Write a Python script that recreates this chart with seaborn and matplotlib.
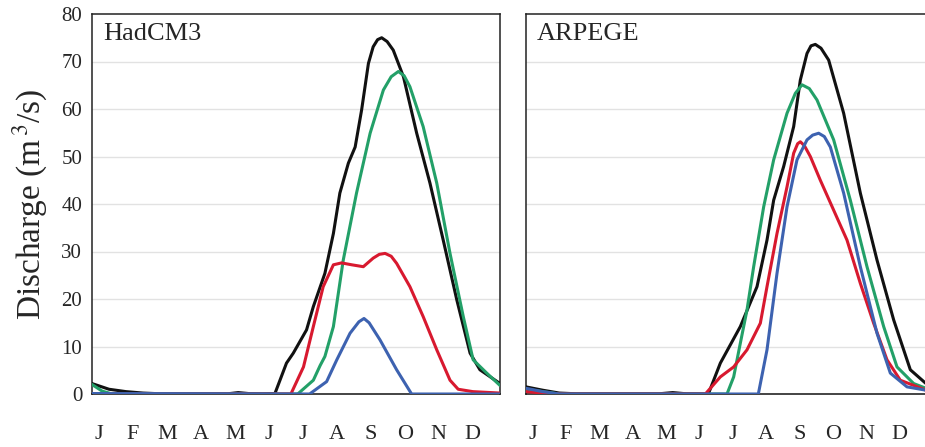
import numpy as np
import pandas as pd
import matplotlib
matplotlib.use("Agg")
import matplotlib.pyplot as plt
import seaborn as sns

# month labels and panel names
months = ["J", "F", "M", "A", "M", "J", "J", "A", "S", "O", "N", "D"]
panels = ["HadCM3", "ARPEGE"]

# HadCM3 series (x in months since 1 Jan, y in m3/s)
had_black_m = [0, 0.5, 1.0, 1.5, 2.0, 4.0, 4.3, 4.6, 5.0, 5.38, 5.72, 5.92, 6.31, 6.51, 6.85, 7.1, 7.29, 7.54,
               7.74, 7.93, 8.13, 8.27, 8.4, 8.52, 8.68, 8.86, 9.16, 9.55, 9.94, 10.33, 10.73, 11.12, 11.41, 12.0]
had_black_v = [2.2, 1.0, 0.5, 0.2, 0.05, 0.05, 0.3, 0.1, 0.05, 0.1, 6.5, 8.6, 13.5, 18.4, 25.4, 33.8, 42.3, 48.6,
               52.0, 59.8, 69.6, 73.1, 74.6, 75.0, 74.2, 72.4, 66.8, 54.9, 44.4, 32.4, 19.8, 8.6, 5.1, 2.2]
had_green_m = [0, 0.3, 0.6, 6.05, 6.51, 6.71, 6.85, 7.1, 7.39, 7.78, 8.18, 8.57, 8.8, 9.01, 9.18, 9.35, 9.74,
               10.14, 10.53, 10.92, 11.21, 11.61, 12.0]
had_green_v = [2.0, 0.6, 0, 0, 2.9, 6.0, 7.9, 14.2, 28.2, 42.3, 54.9, 64.0, 66.8, 67.9, 67.0, 64.7, 56.3,
               44.4, 29.6, 16.3, 7.2, 4.4, 1.8]
had_red_m = [0, 5.85, 6.22, 6.51, 6.8, 7.1, 7.34, 7.64, 7.98, 8.27, 8.45, 8.62, 8.8, 8.96, 9.35, 9.74, 10.14,
             10.53, 10.77, 11.2, 12.0]
had_red_v = [0, 0, 5.7, 14.2, 22.6, 27.2, 27.6, 27.2, 26.8, 28.6, 29.4, 29.6, 29.0, 27.5, 22.6, 16.3, 9.3,
             2.9, 1.0, 0.5, 0.2]
had_blue_m = [0, 6.4, 6.9, 7.2, 7.59, 7.85, 8.0, 8.15, 8.47, 8.96, 9.4, 12.0]
had_blue_v = [0.1, 0, 2.6, 7.2, 12.8, 15.2, 15.9, 15.0, 11.4, 5.1, 0, 0]

# ARPEGE series
arp_black_m = [0, 0.5, 1.0, 1.5, 4.0, 4.4, 4.8, 5.47, 5.83, 6.43, 6.93, 7.23, 7.43, 7.73, 8.03, 8.23, 8.43,
               8.55, 8.68, 8.85, 9.08, 9.53, 10.03, 10.53, 11.03, 11.53, 12.0]
arp_black_v = [1.5, 0.8, 0.2, 0.05, 0.05, 0.3, 0.05, 0, 6.5, 14.2, 22.6, 32.4, 40.8, 47.9, 56.3, 66.1, 71.7,
               73.3, 73.6, 72.8, 70.3, 59.1, 42.3, 28.2, 15.6, 5.1, 2.2]
arp_green_m = [0, 0.5, 1.0, 6.03, 6.23, 6.43, 6.63, 6.83, 7.13, 7.43, 7.83, 8.08, 8.28, 8.5, 8.73, 9.23, 9.73,
               10.23, 10.73, 11.13, 11.63, 12.0]
arp_green_v = [1.0, 0.5, 0, 0, 3.6, 10.7, 17.7, 26.8, 39.4, 49.3, 59.1, 63.3, 65.1, 64.3, 61.9, 53.5, 40.8,
               26.8, 14.2, 5.7, 2.2, 1.2]
arp_red_m = [0, 0.5, 1.0, 5.38, 5.83, 6.23, 6.63, 7.03, 7.23, 7.53, 7.83, 8.03, 8.15, 8.23, 8.35, 8.53, 8.83,
             9.23, 9.63, 10.03, 10.43, 10.83, 11.23, 12.0]
arp_red_v = [0.5, 0.2, 0, 0, 3.6, 5.7, 9.3, 14.9, 22.6, 33.8, 43.6, 50.7, 52.7, 53.1, 52.3, 50.0, 45.0,
             38.7, 32.4, 23.3, 14.9, 7.2, 2.9, 0.8]
arp_blue_m = [0, 0.5, 1.0, 6.97, 7.23, 7.53, 7.83, 8.13, 8.43, 8.6, 8.78, 8.95, 9.13, 9.53, 10.03, 10.53,
              10.93, 11.43, 12.0]
arp_blue_v = [1.2, 0.5, 0, 0, 9.3, 25.4, 39.4, 49.3, 53.5, 54.5, 54.9, 54.2, 52.0, 42.3, 26.8, 12.8,
              4.4, 1.5, 0.8]

colors = {"black": "#111111", "green": "#23a068", "red": "#d8192f", "blue": "#3d62b0"}

series = [
    [("black", had_black_m, had_black_v), ("green", had_green_m, had_green_v),
     ("red", had_red_m, had_red_v), ("blue", had_blue_m, had_blue_v)],
    [("black", arp_black_m, arp_black_v), ("green", arp_green_m, arp_green_v),
     ("red", arp_red_m, arp_red_v), ("blue", arp_blue_m, arp_blue_v)],
]

sns.set_style("white")
plt.rcParams["font.family"] = ["Liberation Serif", "DejaVu Serif"]
plt.rcParams["mathtext.fontset"] = "stix"

fig = plt.figure(figsize=(9.25, 4.47), dpi=100)
ax1 = fig.add_axes([92 / 925, 53 / 447, 408 / 925, 380 / 447])
ax2 = fig.add_axes([526 / 925, 53 / 447, 400 / 925, 380 / 447])

for i, ax in enumerate([ax1, ax2]):
    for yv in range(10, 80, 10):
        ax.axhline(yv, color="#e2e2e2", lw=1.0, zorder=0)
    for name, m, v in series[i]:
        df = pd.DataFrame({"month": m, "q": v})
        sns.lineplot(data=df, x="month", y="q", ax=ax, color=colors[name], lw=2.2, zorder=3)
    ax.set_xlim(0, 12)
    ax.set_ylim(0, 80)
    ax.set_xlabel("")
    ax.set_ylabel("")
    ax.set_xticks(range(13))
    ax.set_xticklabels([])
    ax.set_xticks(np.arange(12) + 0.2, minor=True)
    ax.set_xticklabels(months, minor=True, fontsize=16)
    ax.tick_params(axis="x", which="major", direction="out", length=5, width=1.1, color="#222222")
    ax.tick_params(axis="x", which="minor", length=0, pad=22)
    ax.set_yticks(range(0, 90, 10))
    ax.tick_params(axis="y", direction="out", length=5, width=1.1, labelsize=15, pad=2)
    for s in ax.spines.values():
        s.set_color("#222222")
        s.set_linewidth(1.1)
    ax.spines["bottom"].set_color("#111111")
    ax.text(0.027, 0.975, panels[i], transform=ax.transAxes, fontsize=19, ha="left", va="top")

ax2.set_yticklabels([])
ax1.set_ylabel("Discharge (m$^{\\,3}$/s)", fontsize=24, labelpad=8)

fig.savefig("out.png", dpi=100)
